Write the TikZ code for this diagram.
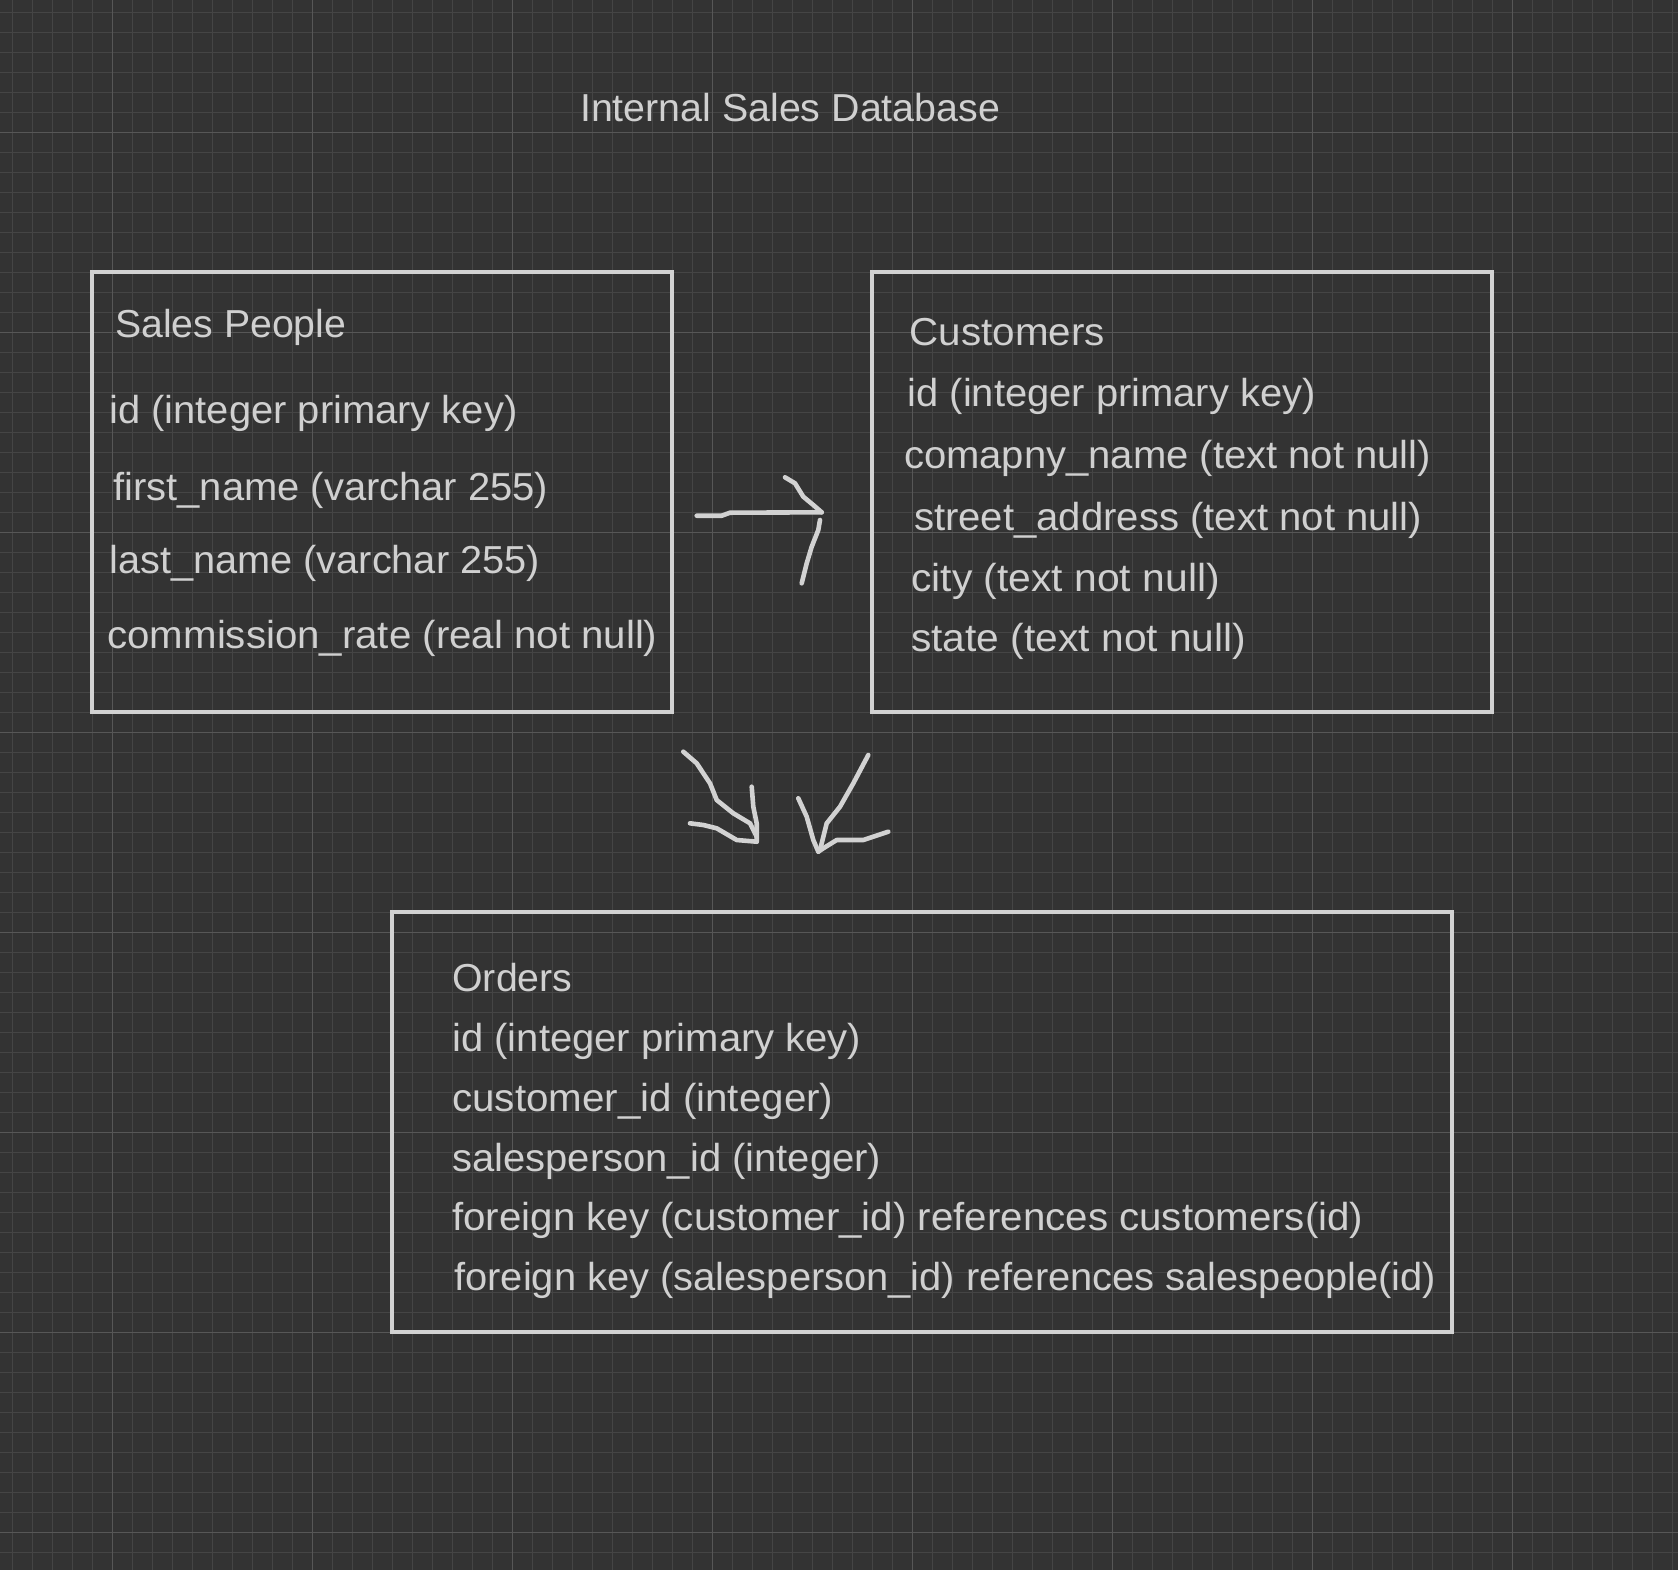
\documentclass[tikz,border=0pt]{standalone}
\usepackage{fontspec}
\setmainfont{Liberation Sans}
\usepackage{graphicx}
\usetikzlibrary{fit}
\definecolor{bgc}{HTML}{333333}
\definecolor{minorc}{HTML}{454545}
\definecolor{majorc}{HTML}{575757}
\definecolor{lc}{HTML}{D2D2D2}
\definecolor{tc}{HTML}{D0D0D0}
\newsavebox\fitbox
\newcommand\fitto[2]{\sbox\fitbox{#2}\pgfmathsetmacro\fitfac{#1*0.5/\the\wd\fitbox}\scalebox{\fitfac}[1]{\usebox\fitbox}}
\tikzset{
  tbl/.style={draw=lc, line width=2pt, inner sep=0pt},
  txt/.style={anchor=base west, inner sep=0pt, text=tc, font=\fontsize{19.5}{22}\selectfont},
  pen/.style={draw=lc, line width=2.3pt, line cap=round, line join=round},
  minorline/.style={draw=minorc, line width=0.5pt},
  majorline/.style={draw=majorc, line width=0.5pt}
}
\begin{document}
\begin{tikzpicture}[x=0.5pt, y=-0.5pt]
\useasboundingbox (0,0) rectangle (1678,1570);
\fill[bgc] (0,0) rectangle (1678,1570);
% grid
\foreach \g in {12,32,...,1672} \draw[minorline] (\g,0) -- (\g,1570);
\foreach \g in {12,32,...,1570} \draw[minorline] (0,\g) -- (1678,\g);
\foreach \g in {112,312,...,1512} \draw[majorline] (\g,0) -- (\g,1570);
\foreach \g in {132,332,...,1532} \draw[majorline] (0,\g) -- (1678,\g);

% title
\node[txt] (title) at (579.7,121.7) {\fitto{420}{Internal Sales Database}};

% Sales People
\node[tbl, fit={(92,272) (672,712)}] (sales) {};
\node[txt] (s0) at (114.8,337.3) {\fitto{231}{Sales People}};
\node[txt] (s1) at (109,423.3) {\fitto{408}{id (integer primary key)}};
\node[txt] (s2) at (112.9,500.7) {\fitto{435}{first\_name (varchar 255)}};
\node[txt] (s3) at (109,573.3) {\fitto{430.5}{last\_name (varchar 255)}};
\node[txt] (s4) at (107.1,648.3) {\fitto{550}{commission\_rate (real not null)}};

% Customers
\node[tbl, fit={(872,272) (1492,712)}] (cust) {};
\node[txt] (c0) at (909.4,345) {\fitto{195}{Customers}};
\node[txt] (c1) at (907.3,406.7) {\fitto{408}{id (integer primary key)}};
\node[txt] (c2) at (903.7,468.3) {\fitto{527}{comapny\_name (text not null)}};
\node[txt] (c3) at (913.7,530) {\fitto{508}{street\_address (text not null)}};
\node[txt] (c4) at (910.9,591.7) {\fitto{308.5}{city (text not null)}};
\node[txt] (c5) at (910.9,651.7) {\fitto{335}{state (text not null)}};

% Orders
\node[tbl, fit={(392,912) (1452,1332)}] (orders) {};
\node[txt] (o0) at (452,991) {\fitto{120}{Orders}};
\node[txt] (o1) at (452,1051.7) {\fitto{409}{id (integer primary key)}};
\node[txt] (o2) at (452,1111.7) {\fitto{381}{customer\_id (integer)}};
\node[txt] (o3) at (452,1171.7) {\fitto{429}{salesperson\_id (integer)}};
\node[txt] (o4) at (452,1230) {\fitto{911}{foreign key (customer\_id) references customers(id)}};
\node[txt] (o5) at (454,1290) {\fitto{982}{foreign key (salesperson\_id) references salespeople(id)}};

% hand-drawn arrow: Sales People -> Customers
\draw[pen] (696.7,515.7) -- (721.7,515.7) -- (730,512.7) -- (821.7,512.3);
\draw[pen] (785,477.3) -- (795,483.3) -- (803.3,496.7) -- (813.3,505) -- (821.7,512.3);
\draw[pen] (820,520) -- (818.3,530) -- (811.7,546.7) -- (806.7,563.3) -- (801.7,583.3);

% hand-drawn arrow: Sales People -> Orders
\draw[pen] (683.3,751.7) -- (696.7,763.3) -- (710,783.3) -- (716.7,800) -- (733.3,813.3) -- (750,823.3) -- (756.7,836.7);
\draw[pen] (751.7,786.7) -- (753.3,806.7) -- (756.7,823.3) -- (756.7,841.7);
\draw[pen] (690,823.3) -- (703.3,825) -- (716.7,828.3) -- (736.7,840) -- (756.7,841.7);

% hand-drawn arrow: Customers -> Orders
\draw[pen] (868.3,755) -- (853.3,783.3) -- (840,806.7) -- (826.7,823.3) -- (820,850);
\draw[pen] (798.3,798.3) -- (806.7,816.7) -- (813.3,840) -- (818.3,851.7);
\draw[pen] (888.3,831.7) -- (863.3,840) -- (836.7,840) -- (823.3,848.3) -- (818.3,851.7);
\end{tikzpicture}
\end{document}
